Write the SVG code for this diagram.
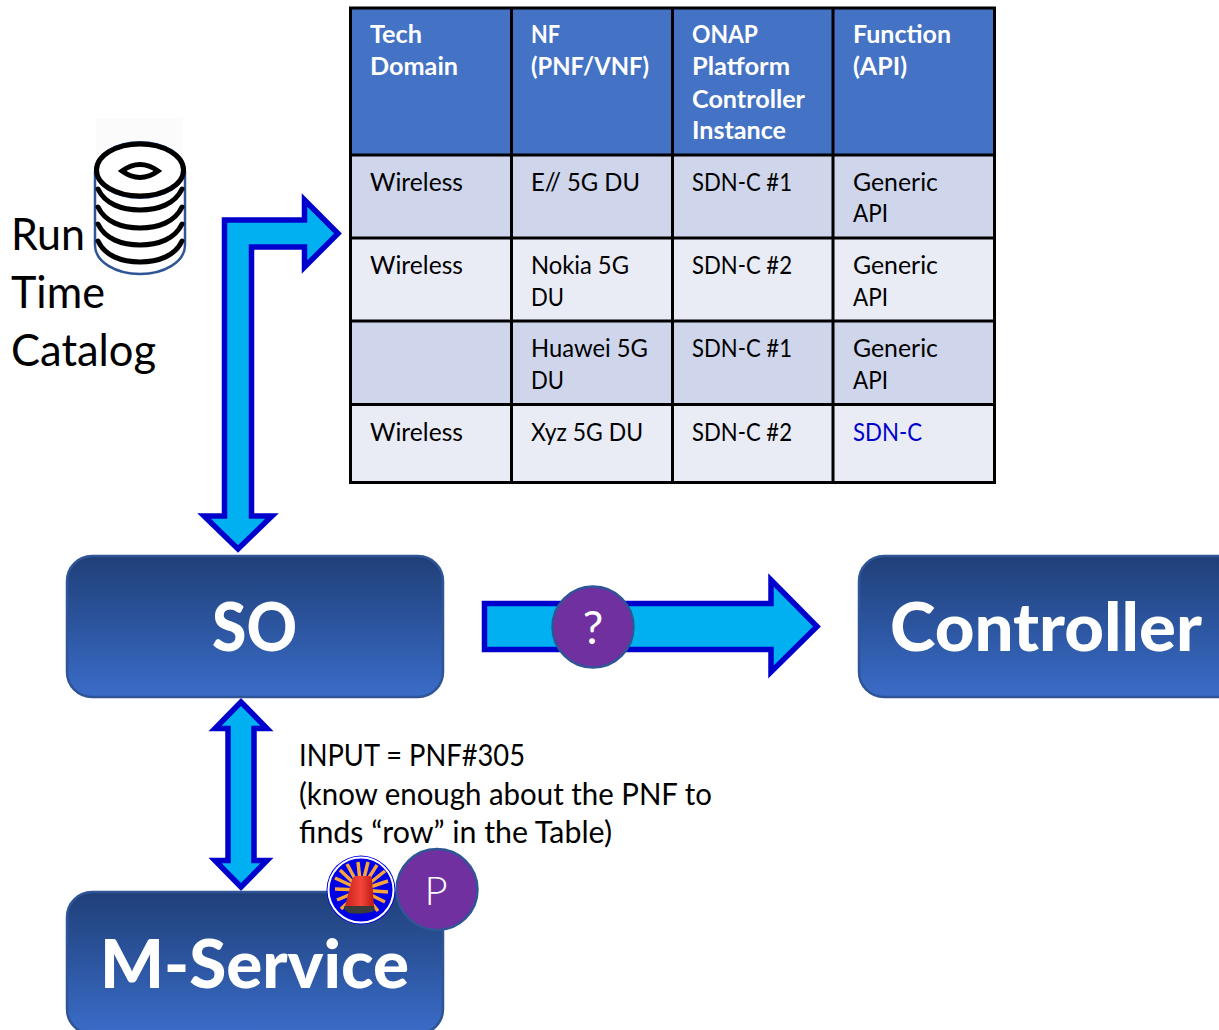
<svg xmlns="http://www.w3.org/2000/svg" width="1219" height="1030" viewBox="0 0 1219 1030">
<style>
text{font-family:"Lato","Open Sans","Liberation Sans",sans-serif}
.th{font-size:25px;font-weight:700;fill:#fff}
.td{font-size:25px;fill:#000}
.lbl{font-size:30px;fill:#000}
.cat{font-size:44px;fill:#000}
.box{fill:url(#boxGrad);stroke:#2F5597;stroke-width:2.5}
.boxt{font-size:66px;font-weight:900;fill:#fff}
.arrow{fill:#00B0F0;stroke:#0000CC;stroke-width:5.5;stroke-linejoin:miter;stroke-miterlimit:10}
.badge{fill:#7030A0;stroke:#2F5597;stroke-width:2.5}
.bt{font-size:40px;fill:#fff;text-anchor:middle}
.grid{stroke:#000;stroke-width:3;fill:none}
.disk{fill:none;stroke:#000;stroke-width:5;stroke-linecap:round}
</style>
<defs>
<linearGradient id="boxGrad" x1="0" y1="0" x2="0" y2="1"><stop offset="0" stop-color="#1F3F78"/><stop offset="1" stop-color="#3A6CC8"/></linearGradient>
<linearGradient id="boxGrad2" gradientUnits="userSpaceOnUse" x1="0" y1="891" x2="0" y2="1034"><stop offset="0" stop-color="#1F3F78"/><stop offset="1" stop-color="#3A6CC8"/></linearGradient>
<linearGradient id="beacon" x1="0" y1="0" x2="1" y2="0"><stop offset="0" stop-color="#C8201A"/><stop offset=".55" stop-color="#F4453A"/><stop offset="1" stop-color="#B81A14"/></linearGradient>
</defs>

<g id="table">
<rect x="351" y="8" width="643" height="147" fill="#4472C4"/>
<rect x="351" y="155" width="643" height="83" fill="#CFD5EA"/>
<rect x="351" y="238" width="643" height="83" fill="#E9EBF5"/>
<rect x="351" y="321" width="643" height="83" fill="#CFD5EA"/>
<rect x="351" y="404" width="643" height="78" fill="#E9EBF5"/>
<path class="grid" d="M350.500 8H994.500V482.500H350.500ZM511.500 8V482.500M672.500 8V482.500M833 8V482.500M350.500 155H994.500M350.500 238H994.500M350.500 321H994.500M350.500 404.500H994.500"/>
<text class="th" x="370" y="43" textLength="52" lengthAdjust="spacingAndGlyphs">Tech</text>
<text class="th" x="370" y="75" textLength="88" lengthAdjust="spacingAndGlyphs">Domain</text>
<text class="th" x="531" y="43" textLength="29" lengthAdjust="spacingAndGlyphs">NF</text>
<text class="th" x="531" y="75" textLength="118" lengthAdjust="spacingAndGlyphs">(PNF/VNF)</text>
<text class="th" x="692" y="43" textLength="66" lengthAdjust="spacingAndGlyphs">ONAP</text>
<text class="th" x="692" y="75" textLength="98" lengthAdjust="spacingAndGlyphs">Platform</text>
<text class="th" x="692" y="108" textLength="113" lengthAdjust="spacingAndGlyphs">Controller</text>
<text class="th" x="692" y="139" textLength="94" lengthAdjust="spacingAndGlyphs">Instance</text>
<text class="th" x="853" y="43" textLength="98" lengthAdjust="spacingAndGlyphs">Function</text>
<text class="th" x="853" y="75" textLength="54" lengthAdjust="spacingAndGlyphs">(API)</text>

<text class="td" x="370" y="191" textLength="93" lengthAdjust="spacingAndGlyphs">Wireless</text>
<text class="td" x="531" y="191" textLength="109" lengthAdjust="spacingAndGlyphs">E// 5G DU</text>
<text class="td" x="692" y="191" textLength="100" lengthAdjust="spacingAndGlyphs">SDN-C #1</text>
<text class="td" x="853" y="191" textLength="85" lengthAdjust="spacingAndGlyphs">Generic</text>
<text class="td" x="853" y="222" textLength="35" lengthAdjust="spacingAndGlyphs">API</text>

<text class="td" x="370" y="274" textLength="93" lengthAdjust="spacingAndGlyphs">Wireless</text>
<text class="td" x="531" y="274" textLength="98" lengthAdjust="spacingAndGlyphs">Nokia 5G</text>
<text class="td" x="531" y="306" textLength="33" lengthAdjust="spacingAndGlyphs">DU</text>
<text class="td" x="692" y="274" textLength="100" lengthAdjust="spacingAndGlyphs">SDN-C #2</text>
<text class="td" x="853" y="274" textLength="85" lengthAdjust="spacingAndGlyphs">Generic</text>
<text class="td" x="853" y="306" textLength="35" lengthAdjust="spacingAndGlyphs">API</text>

<text class="td" x="531" y="357" textLength="117" lengthAdjust="spacingAndGlyphs">Huawei 5G</text>
<text class="td" x="531" y="389" textLength="33" lengthAdjust="spacingAndGlyphs">DU</text>
<text class="td" x="692" y="357" textLength="100" lengthAdjust="spacingAndGlyphs">SDN-C #1</text>
<text class="td" x="853" y="357" textLength="85" lengthAdjust="spacingAndGlyphs">Generic</text>
<text class="td" x="853" y="389" textLength="35" lengthAdjust="spacingAndGlyphs">API</text>

<text class="td" x="370" y="441" textLength="93" lengthAdjust="spacingAndGlyphs">Wireless</text>
<text class="td" x="531" y="441" textLength="112" lengthAdjust="spacingAndGlyphs">Xyz 5G DU</text>
<text class="td" x="692" y="441" textLength="100" lengthAdjust="spacingAndGlyphs">SDN-C #2</text>
<text class="td" x="853" y="441" textLength="69" lengthAdjust="spacingAndGlyphs" style="fill:#0000CC">SDN-C</text>
</g>

<g id="catalog">
<rect x="96" y="118" width="87" height="150" fill="#F8F8F8" opacity=".6"/>
<path d="M95 171V245C95 262 116 274 140 274C164 274 185 262 185 245V171" fill="#fff" stroke="#2F5597" stroke-width="2.500"/>
<path class="disk" d="M98 189C105 204 122 210 140 210C158 210 175 204 182 189"/>
<path class="disk" d="M98 207C105 222 122 228 140 228C158 228 175 222 182 207"/>
<path class="disk" d="M98 224C105 239 122 245 140 245C158 245 175 239 182 224"/>
<path class="disk" d="M98 241C105 256 122 262 140 262C158 262 175 256 182 241"/>
<ellipse cx="140" cy="170" rx="46" ry="29" fill="#2F5597"/>
<ellipse cx="140" cy="170" rx="43.500" ry="26" fill="#fff" stroke="#000" stroke-width="5"/>
<path d="M122 171Q140 158 158 171Q140 184 122 171Z" fill="#fff" stroke="#000" stroke-width="5"/>
<text class="cat" x="11" y="250" textLength="74" lengthAdjust="spacingAndGlyphs">Run</text>
<text class="cat" x="11" y="308" textLength="94" lengthAdjust="spacingAndGlyphs">Time</text>
<text class="cat" x="11" y="366" textLength="145" lengthAdjust="spacingAndGlyphs">Catalog</text>
</g>

<g id="connectors">
<path class="arrow" d="M224.500 516V220H304.500V200L338 233.500L304.500 267V247H251.500V516H272L238 549L204 516Z"/>
<path class="arrow" d="M484.500 603.500H771V580L817 626.500L771 672V649.500H484.500Z"/>
<path class="arrow" d="M241 702L267 728.500H254V860.500H267L241 887L215 860.500H228V728.500H215Z"/>
</g>

<g id="so"><rect class="box" x="67" y="556" width="376" height="141" rx="25"/>
<text class="boxt" x="212" y="651" textLength="85" lengthAdjust="spacingAndGlyphs">SO</text></g>

<g id="controller"><rect class="box" x="859" y="556" width="385" height="141" rx="25"/>
<text class="boxt" x="890" y="651" textLength="312" lengthAdjust="spacingAndGlyphs">Controller</text></g>

<g id="m-service"><rect class="box" style="fill:url(#boxGrad2)" x="67" y="892" width="376" height="142" rx="25"/>
<text class="boxt" x="100" y="988" textLength="309" lengthAdjust="spacingAndGlyphs">M-Service</text></g>

<g id="question"><circle class="badge" cx="593" cy="627" r="40.500"/><text class="bt" style="font-size:46px" x="593" y="644">?</text></g>

<g id="input-label">
<text class="lbl" x="299" y="766" textLength="226" lengthAdjust="spacingAndGlyphs">INPUT = PNF#305</text>
<text class="lbl" x="299" y="805" textLength="413" lengthAdjust="spacingAndGlyphs">(know enough about the PNF to</text>
<text class="lbl" x="299" y="843" textLength="313" lengthAdjust="spacingAndGlyphs">finds “row” in the Table)</text>
</g>

<g id="alarm">
<circle cx="361" cy="890" r="34.500" fill="#0000E6"/>
<circle cx="361" cy="890" r="32.500" fill="none" stroke="#fff" stroke-width="2"/>
<path d="M361 890L358 862M361 890L368 862M361 890L377 865M361 890L385 871M361 890L388 881M361 890L388 892M361 890L385 902M361 890L378 911M361 890L347 864M361 890L340 870M361 890L335 878M361 890L335 889M361 890L337 900M361 890L341 909" stroke="#F9A33A" stroke-width="3.500" fill="none"/>
<path d="M352 880Q353 876 357 876H369Q372 876 372 880L374 906H345Z" fill="url(#beacon)"/>
<path d="M344 906H374Q376 910 372 912Q360 915 349 913Q344 911 344 906Z" fill="#3A3A3A"/>
</g>

<g id="p"><circle class="badge" cx="437" cy="889.500" r="40.500"/><text class="bt" style="font-weight:300" x="436" y="905">P</text></g>
</svg>
